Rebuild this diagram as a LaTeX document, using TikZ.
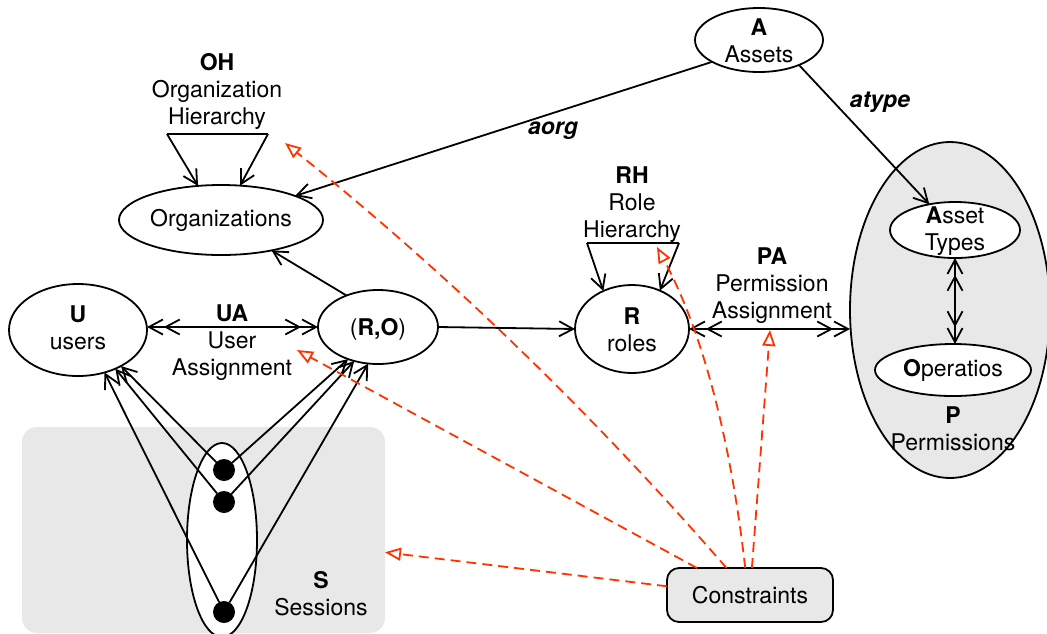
\documentclass[tikz,border=0pt]{standalone}
\usepackage{fontspec}
\setmainfont{TeX Gyre Heros}
\usetikzlibrary{arrows.meta,shapes.geometric,calc}
\definecolor{panel}{HTML}{E8E8E8}
\definecolor{cred}{HTML}{FF3300}

\begin{document}
\begin{tikzpicture}[x=1pt,y=-1pt,
  font=\fontsize{23}{27}\selectfont,
  every node/.style={inner sep=0pt, outer sep=0pt},
  >={Straight Barb[length=14pt,width=15pt]},
  link/.style={line width=1.8pt},
  ell/.style={ellipse, draw, line width=1.8pt, fill=white},
  lbl/.style={align=center},
  cstr/.style={draw=cred, line width=1.8pt, dash pattern=on 10pt off 6pt,
               -{Triangle[open,length=16pt,width=13pt]}},
  dot/.style={circle, fill=black, minimum size=22pt},
]
\useasboundingbox (0,0) rectangle (1047,633);

% sessions panel
\node[fill=panel, rounded corners=15pt, minimum width=363pt, minimum height=206pt] (sessbg) at (203.5,530) {};
\node[ell, minimum width=70pt, minimum height=194pt] (sess) at (222,540) {};
\node[dot] (d1) at (224,470) {};
\node[dot] (d2) at (224,502) {};
\node[dot] (d3) at (224,612) {};
\node[lbl] (slbl) at (321,594) {\textbf{S}\\Sessions};

% permissions
\node[ellipse, draw, line width=1.8pt, fill=panel, minimum width=200pt, minimum height=336pt] (perm) at (950,310) {};
\node[ell, minimum width=130pt, minimum height=56pt] (atypes) at (955,230) {};
\node[lbl] at (955,231) {\textbf{A}sset\\Types};
\node[ell, minimum width=156pt, minimum height=52pt] (ops) at (953,370) {};
\node at (953,370) {\textbf{O}peratios};
\node[lbl] (plbl) at (953,428.5) {\textbf{P}\\Permissions};

% assets
\node[ell, minimum width=128pt, minimum height=64pt] (assets) at (759,40) {};
\node[lbl] at (759,40.5) {\textbf{A}\\Assets};

% organizations and hierarchy
\node[ell, minimum width=204pt, minimum height=70pt] (orgs) at (221,220) {};
\node at (221,220) {Organizations};
\node[lbl] (ohlbl) at (217,91.5) {\textbf{OH}\\Organization\\Hierarchy};
\coordinate (ohl) at (167,134);
\coordinate (ohr) at (268,134);

% roles and hierarchy
\node[lbl] (rhlbl) at (632,204.5) {\textbf{RH}\\Role\\Hierarchy};
\coordinate (rhl) at (587,243);
\coordinate (rhr) at (679,243);
\node[ell, minimum width=114pt, minimum height=88pt] (roles) at (632,329) {};
\node[lbl] at (632,329.5) {\textbf{R}\\roles};

% role-organization pairs and users
\node[ell, minimum width=120pt, minimum height=74pt] (ro) at (378,327) {};
\node at (378,329) {(\textbf{R,O})};
\node[ell, minimum width=138pt, minimum height=92pt] (users) at (78,330) {};
\node[lbl] at (78,327.5) {\textbf{U}\\users};

\node[lbl] (ualbl) at (232,342.5) {\textbf{UA}\\User\\Assignment};
\node[lbl] (palbl) at (772,286) {\textbf{PA}\\Permission\\Assignment};
\node (aorg) at (553,131) {\textbf{\textit{aorg}}};
\node (atype) at (880,102) {\textbf{\textit{atype}}};

\node[draw, fill=panel, line width=1.8pt, rounded corners=12pt, minimum width=166pt, minimum height=54pt] (cons) at (750,595) {Constraints};

% relations
\draw[link,->] (assets.205) -- (orgs.18);
\draw[link,->] (assets.-32) -- (atypes.135);
\draw[link,->] (ro.135) -- (orgs.-31);
\draw[link,<<->>] (users.east |- ro.west) -- (ro.west);
\draw[link,->] (ro.east) -- (roles.west);
\draw[link,<<->>] (roles.east) -- (roles.east -| perm.west);
\draw[link,<<->>] (atypes.south) -- (atypes.south |- ops.north);

\draw[link,->] (ohl) -- (orgs.124);
\draw[link] (ohl) -- (ohr);
\draw[link,->] (ohr) -- (orgs.61);

\draw[link,->] (rhl) -- (roles.127);
\draw[link] (rhl) -- (rhr);
\draw[link,->] (rhr) -- (roles.54);

% sessions to users and to (R,O)
\draw[link,->] (d1) -- (users.-40);
\draw[link,->] (d2) -- (users.-46);
\draw[link,->] (d3) -- (users.-58);
\draw[link,->] (d1) -- (ro.-133);
\draw[link,->] (d2) -- (ro.-125);
\draw[link,->] (d3) -- (ro.-105);

% constraints
\coordinate (uatip) at (297,350);
\coordinate (ohtip) at (285,143);
\coordinate (rhtip) at (657,247);
\coordinate (patip) at (770,330);
\draw[cstr] (cons.174) -- (sessbg.-7);
\draw[cstr] (cons.153) -- (uatip);
\draw[cstr] (cons.131) .. controls (591,412) and (446,272) .. (ohtip);
\draw[cstr] (cons.100) .. controls (730,434) and (701,329) .. (rhtip);
\draw[cstr] (cons.86) -- (patip);
\end{tikzpicture}
\end{document}
